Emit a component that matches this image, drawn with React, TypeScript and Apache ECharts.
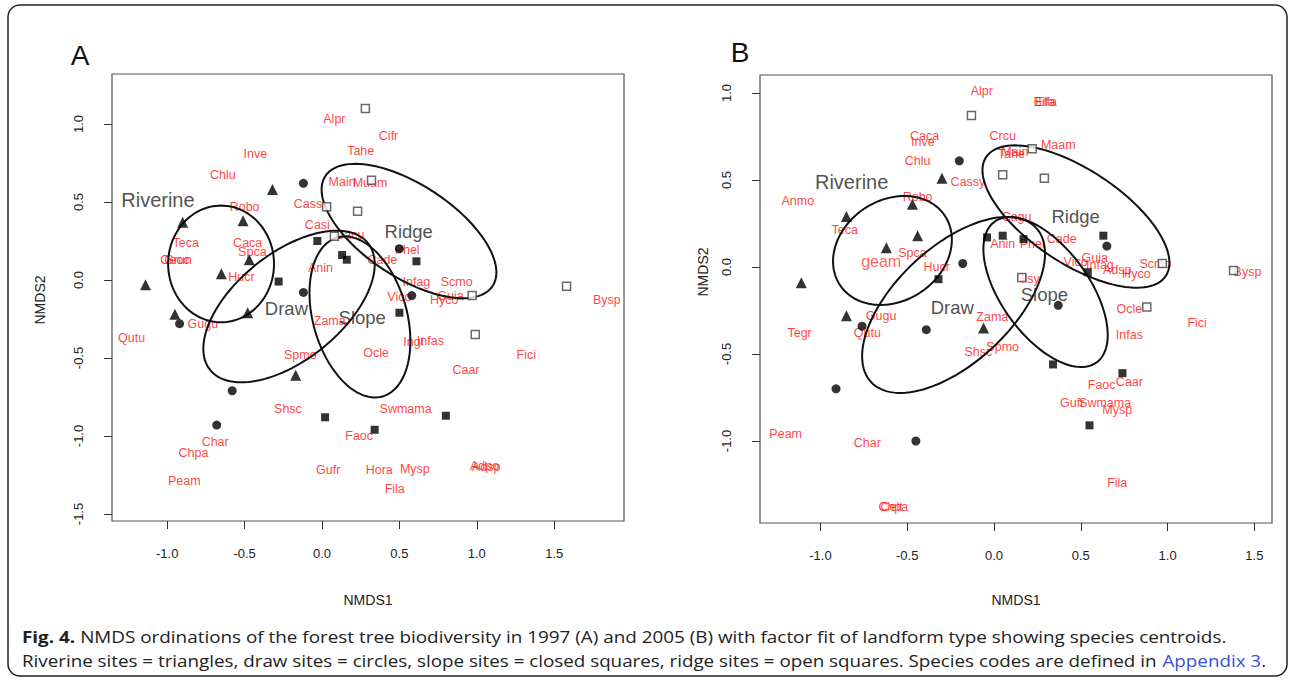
import React, { useEffect, useRef } from "react";
import * as echarts from "echarts";

// ---------- axis ticks ----------
const xTicks = [-1.0, -0.5, 0.0, 0.5, 1.0, 1.5];
const yTicksA = [-1.5, -1.0, -0.5, 0.0, 0.5, 1.0];
const yTicksB = [-1.0, -0.5, 0.0, 0.5, 1.0];

// ---------- Panel A (1997) ----------
const speciesA: [string, number, number][] = [
  ["Alpr", 0.08, 1.03], ["Inve", -0.43, 0.81], ["Chlu", -0.64, 0.67], ["Tahe", 0.25, 0.83],
  ["Cifr", 0.43, 0.92], ["Main", 0.13, 0.63], ["Muam", 0.31, 0.62], ["Robo", -0.5, 0.47],
  ["Cass", -0.09, 0.49], ["Casi", -0.03, 0.35], ["Cacu", 0.18, 0.29], ["Teca", -0.88, 0.24],
  ["Caca", -0.48, 0.24], ["Spca", -0.45, 0.18], ["Ceoc", -0.95, 0.13], ["Grun", -0.93, 0.13],
  ["Hucr", -0.52, 0.02], ["Anin", -0.01, 0.08], ["Cade", 0.39, 0.13], ["Phel", 0.55, 0.19],
  ["Infag", 0.61, -0.01], ["Scmo", 0.87, -0.01], ["Guia", 0.83, -0.1], ["Hyco", 0.79, -0.13],
  ["Vico", 0.5, -0.11], ["Bysp", 1.84, -0.13], ["Ingl", 0.59, -0.4], ["Infas", 0.7, -0.39],
  ["Ocle", 0.35, -0.47], ["Fici", 1.32, -0.48], ["Caar", 0.93, -0.58], ["Swmama", 0.54, -0.83],
  ["Faoc", 0.24, -1.0], ["Hora", 0.37, -1.22], ["Mysp", 0.6, -1.21], ["Adpo", 1.05, -1.19],
  ["Adsp", 1.06, -1.2], ["Fila", 0.47, -1.34], ["Gufr", 0.04, -1.22], ["Shsc", -0.22, -0.83],
  ["Spmo", -0.14, -0.48], ["Zama", 0.05, -0.26], ["Gugu", -0.77, -0.28], ["Qutu", -1.23, -0.37],
  ["Char", -0.69, -1.04], ["Chpa", -0.83, -1.11], ["Peam", -0.89, -1.29],
];
const groupsA: [string, number, number][] = [
  ["Riverine", -1.06, 0.51], ["Ridge", 0.56, 0.31], ["Draw", -0.23, -0.18], ["Slope", 0.26, -0.24],
];
const riverineA = [[-0.32, 0.58], [-0.9, 0.37], [-0.51, 0.38], [-0.47, 0.13], [-0.65, 0.04], [-1.14, -0.03], [-0.95, -0.22], [-0.48, -0.21], [-0.17, -0.61]];
const drawA = [[-0.12, 0.62], [0.5, 0.2], [0.58, -0.1], [-0.12, -0.08], [-0.92, -0.28], [-0.58, -0.71], [-0.68, -0.93]];
const slopeA = [[-0.03, 0.25], [0.13, 0.16], [0.16, 0.13], [-0.28, -0.01], [0.61, 0.12], [0.5, -0.21], [0.02, -0.88], [0.8, -0.87], [0.34, -0.96]];
const ridgeA = [[0.28, 1.1], [0.32, 0.64], [0.03, 0.47], [0.23, 0.44], [0.08, 0.28], [0.97, -0.1], [1.58, -0.04], [0.99, -0.35]];
// ellipses: [cx, cy, semi-axis a, semi-axis b, angle deg]
const ellipsesA = [
  [-0.652, 0.103, 0.374, 0.342, 90],
  [-0.213, -0.17, 0.652, 0.343, 38.4],
  [0.245, -0.237, 0.53, 0.303, 106],
  [0.562, 0.314, 0.645, 0.297, -33],
];

// ---------- Panel B (2005) ----------
const speciesB: [string, number, number][] = [
  ["Alpr", -0.07, 1.01], ["Bifa", 0.29, 0.95], ["Elfa", 0.3, 0.95], ["Caca", -0.4, 0.75],
  ["Inve", -0.41, 0.72], ["Crcu", 0.05, 0.75], ["Maam", 0.37, 0.7], ["Tahe", 0.1, 0.65],
  ["Main", 0.12, 0.66], ["Chlu", -0.44, 0.61], ["Cassy", -0.15, 0.49], ["Anmo", -1.13, 0.38],
  ["Robo", -0.44, 0.4], ["Teca", -0.86, 0.21], ["Spca", -0.47, 0.08], ["Hucr", -0.33, 0.0],
  ["Cagu", 0.13, 0.29], ["Anin", 0.05, 0.13], ["Phel", 0.22, 0.13], ["Cade", 0.39, 0.16],
  ["Vico", 0.47, 0.03], ["Guia", 0.58, 0.05], ["Infag", 0.61, 0.01], ["Adsp", 0.71, -0.02],
  ["Hyco", 0.82, -0.04], ["Scmo", 0.93, 0.02], ["Bysp", 1.46, -0.03], ["Ilsy", 0.21, -0.07],
  ["Ocle", 0.78, -0.24], ["Fici", 1.17, -0.32], ["Infas", 0.78, -0.39], ["Caar", 0.78, -0.66],
  ["Faoc", 0.62, -0.68], ["Gufr", 0.45, -0.78], ["Swmama", 0.64, -0.78], ["Mysp", 0.71, -0.82],
  ["Fila", 0.71, -1.24], ["Zama", -0.01, -0.29], ["Spmo", 0.05, -0.46], ["Shsc", -0.09, -0.49],
  ["Gugu", -0.65, -0.28], ["Qutu", -0.73, -0.38], ["Tegr", -1.12, -0.38], ["Peam", -1.2, -0.96],
  ["Char", -0.73, -1.01], ["Celt", -0.59, -1.38], ["Chpa", -0.58, -1.38],
];
const bigSpeciesB: [string, number, number][] = [["geam", -0.65, 0.03]];
const groupsB: [string, number, number][] = [
  ["Riverine", -0.82, 0.49], ["Ridge", 0.47, 0.29], ["Draw", -0.24, -0.23], ["Slope", 0.29, -0.16],
];
const riverineB = [[-0.3, 0.51], [-0.47, 0.36], [-0.85, 0.29], [-0.44, 0.18], [-0.62, 0.11], [-1.11, -0.09], [-0.85, -0.28], [-0.06, -0.35]];
const drawB = [[-0.2, 0.61], [-0.18, 0.02], [0.65, 0.12], [0.37, -0.22], [-0.39, -0.36], [-0.76, -0.34], [-0.91, -0.7], [-0.45, -1.0]];
const slopeB = [[-0.32, -0.07], [-0.04, 0.17], [0.05, 0.18], [0.17, 0.16], [0.63, 0.18], [0.54, -0.03], [0.34, -0.56], [0.74, -0.61], [0.55, -0.91]];
const ridgeB = [[-0.13, 0.87], [0.05, 0.53], [0.29, 0.51], [0.22, 0.68], [0.16, -0.06], [0.97, 0.02], [0.88, -0.23], [1.38, -0.02]];
const ellipsesB = [
  [-0.585, 0.095, 0.362, 0.29, 33],
  [-0.233, -0.218, 0.65, 0.333, 43],
  [0.297, -0.144, 0.5, 0.253, 126],
  [0.472, 0.29, 0.62, 0.27, -33.4],
];

const FONT = "'Liberation Sans', Arial, sans-serif";
const CAPFONT = "'Open Sans', 'Noto Sans', sans-serif";

function axisPair(idx: number, xmin: number, xmax: number, ymin: number, ymax: number, yTicks: number[]) {
  const tick = { show: true, length: 8, lineStyle: { color: "#333", width: 1 } };
  const x = {
    type: "value", gridIndex: idx, min: xmin, max: xmax, position: "bottom",
    axisLine: { show: false, onZero: false }, splitLine: { show: false },
    axisTick: { ...tick, customValues: xTicks },
    axisLabel: { customValues: xTicks, formatter: (v: number) => v.toFixed(1), margin: 26, fontSize: 13, color: "#222", fontFamily: FONT },
  };
  const y = {
    type: "value", gridIndex: idx, min: ymin, max: ymax, position: "left",
    axisLine: { show: false, onZero: false }, splitLine: { show: false },
    axisTick: { ...tick, customValues: yTicks },
    axisLabel: { customValues: yTicks, rotate: 90, formatter: (v: number) => v.toFixed(1), margin: 27, fontSize: 13, color: "#222", fontFamily: FONT },
  };
  return { x, y };
}

function panelSeries(idx: number, species: [string, number, number][], groups: [string, number, number][],
  riv: number[][], drw: number[][], slp: number[][], rdg: number[][], ells: number[][]) {
  const ax = { xAxisIndex: idx, yAxisIndex: idx };
  return [
    {
      type: "custom", ...ax, data: ells, silent: true, z: 3, clip: true,
      encode: { x: 0, y: 1 },
      renderItem: (_p: any, api: any) => {
        const cx = api.value(0), cy = api.value(1), a = api.value(2), b = api.value(3);
        const ang = (api.value(4) * Math.PI) / 180;
        const pts: number[][] = [];
        for (let i = 0; i <= 120; i++) {
          const t = (i / 120) * Math.PI * 2;
          const u = a * Math.cos(t), v = b * Math.sin(t);
          pts.push(api.coord([cx + u * Math.cos(ang) - v * Math.sin(ang), cy + u * Math.sin(ang) + v * Math.cos(ang)]));
        }
        return { type: "polyline", shape: { points: pts }, style: { fill: null, stroke: "#111", lineWidth: 2 } };
      },
    },
    {
      type: "scatter", ...ax, silent: true, z: 2, symbolSize: 1, itemStyle: { color: "transparent" },
      data: species.map(([n, x, y]) => ({ name: n, value: [x, y] })),
      label: { show: true, position: "inside", formatter: "{b}", color: "#ff0d0d", fontSize: 12.5, fontFamily: FONT },
    },
    {
      type: "scatter", ...ax, silent: true, z: 4, symbolSize: 1, itemStyle: { color: "transparent" },
      data: groups.map(([n, x, y]) => ({ name: n, value: [x, y], label: { fontSize: n === "Riverine" ? 20 : 18.5 } })),
      label: { show: true, position: "inside", formatter: "{b}", color: "#222", fontSize: 18.5, fontFamily: FONT },
    },
    { type: "scatter", ...ax, silent: true, z: 5, symbol: "triangle", symbolSize: 11, itemStyle: { color: "#000" }, data: riv },
    { type: "scatter", ...ax, silent: true, z: 5, symbol: "circle", symbolSize: 9, itemStyle: { color: "#000" }, data: drw },
    { type: "scatter", ...ax, silent: true, z: 5, symbol: "rect", symbolSize: 8, itemStyle: { color: "#000" }, data: slp },
    { type: "scatter", ...ax, silent: true, z: 5, symbol: "rect", symbolSize: 8, itemStyle: { color: "#fff", borderColor: "#444", borderWidth: 1.5 }, data: rdg },
  ];
}

export default function App() {
  const ref = useRef<HTMLDivElement>(null);
  useEffect(() => {
    if (!ref.current) return;
    const chart = echarts.init(ref.current, undefined, { renderer: "svg" });
    const A = axisPair(0, -1.3566, 1.9509, -1.5449, 1.3205, yTicksA);
    const B = axisPair(1, -1.348, 1.6014, -1.4713, 1.1034, yTicksB);
    const gridStyle = { show: true, borderColor: "#555", borderWidth: 1.2, backgroundColor: "#fff" };
    chart.setOption({
      animation: false,
      backgroundColor: "#fff",
      grid: [
        { left: 112, top: 74, width: 512, height: 447, ...gridStyle },
        { left: 760, top: 75, width: 512, height: 448, ...gridStyle },
      ],
      xAxis: [A.x, B.x],
      yAxis: [A.y, B.y],
      series: [
        ...panelSeries(0, speciesA, groupsA, riverineA, drawA, slopeA, ridgeA, ellipsesA),
        ...panelSeries(1, speciesB, groupsB, riverineB, drawB, slopeB, ridgeB, ellipsesB),
        {
          type: "scatter", xAxisIndex: 1, yAxisIndex: 1, silent: true, z: 2, symbolSize: 1, itemStyle: { color: "transparent" },
          data: bigSpeciesB.map(([n, x, y]) => ({ name: n, value: [x, y] })),
          label: { show: true, position: "inside", formatter: "{b}", color: "#ff3a3a", fontSize: 16, fontFamily: FONT },
        },
      ],
      graphic: [
        { type: "rect", shape: { x: 8, y: 5, width: 1279, height: 671, r: 12 }, style: { fill: "none", stroke: "#222", lineWidth: 1.5 }, z: 0 },
        { type: "text", x: 80, y: 55, style: { text: "A", font: `28px ${FONT}`, fill: "#111", textAlign: "center", textVerticalAlign: "middle" } },
        { type: "text", x: 740, y: 52, style: { text: "B", font: `28px ${FONT}`, fill: "#111", textAlign: "center", textVerticalAlign: "middle" } },
        { type: "text", x: 368, y: 600, style: { text: "NMDS1", font: `14px ${FONT}`, fill: "#222", textAlign: "center", textVerticalAlign: "middle" } },
        { type: "text", x: 1016, y: 600, style: { text: "NMDS1", font: `14px ${FONT}`, fill: "#222", textAlign: "center", textVerticalAlign: "middle" } },
        { type: "text", x: 40, y: 300, rotation: Math.PI / 2, style: { text: "NMDS2", font: `14px ${FONT}`, fill: "#222", textAlign: "center", textVerticalAlign: "middle" } },
        { type: "text", x: 703, y: 272, rotation: Math.PI / 2, style: { text: "NMDS2", font: `14px ${FONT}`, fill: "#222", textAlign: "center", textVerticalAlign: "middle" } },
        {
          type: "text", x: 22, y: 637, scaleX: 1.18,
          style: {
            text: "{b|Fig. 4.} NMDS ordinations of the forest tree biodiversity in 1997 (A) and 2005 (B) with factor fit of landform type showing species centroids.",
            font: `16px ${CAPFONT}`, fill: "#222", textVerticalAlign: "middle",
            rich: { b: { fontWeight: "bold", fontSize: 16, fontFamily: CAPFONT, fill: "#222" } },
          },
        },
        {
          type: "text", x: 22, y: 661, scaleX: 1.175,
          style: {
            text: "Riverine sites = triangles, draw sites = circles, slope sites = closed squares, ridge sites = open squares. Species codes are defined in {a|Appendix 3}.",
            font: `16px ${CAPFONT}`, fill: "#222", textVerticalAlign: "middle",
            rich: { a: { fontSize: 16, fontFamily: CAPFONT, fill: "#3a4fd8" } },
          },
        },
      ],
    });
    return () => chart.dispose();
  }, []);
  return <div ref={ref} style={{ position: "absolute", left: 0, top: 0, width: 1295, height: 682, background: "#fff" }} />;
}
